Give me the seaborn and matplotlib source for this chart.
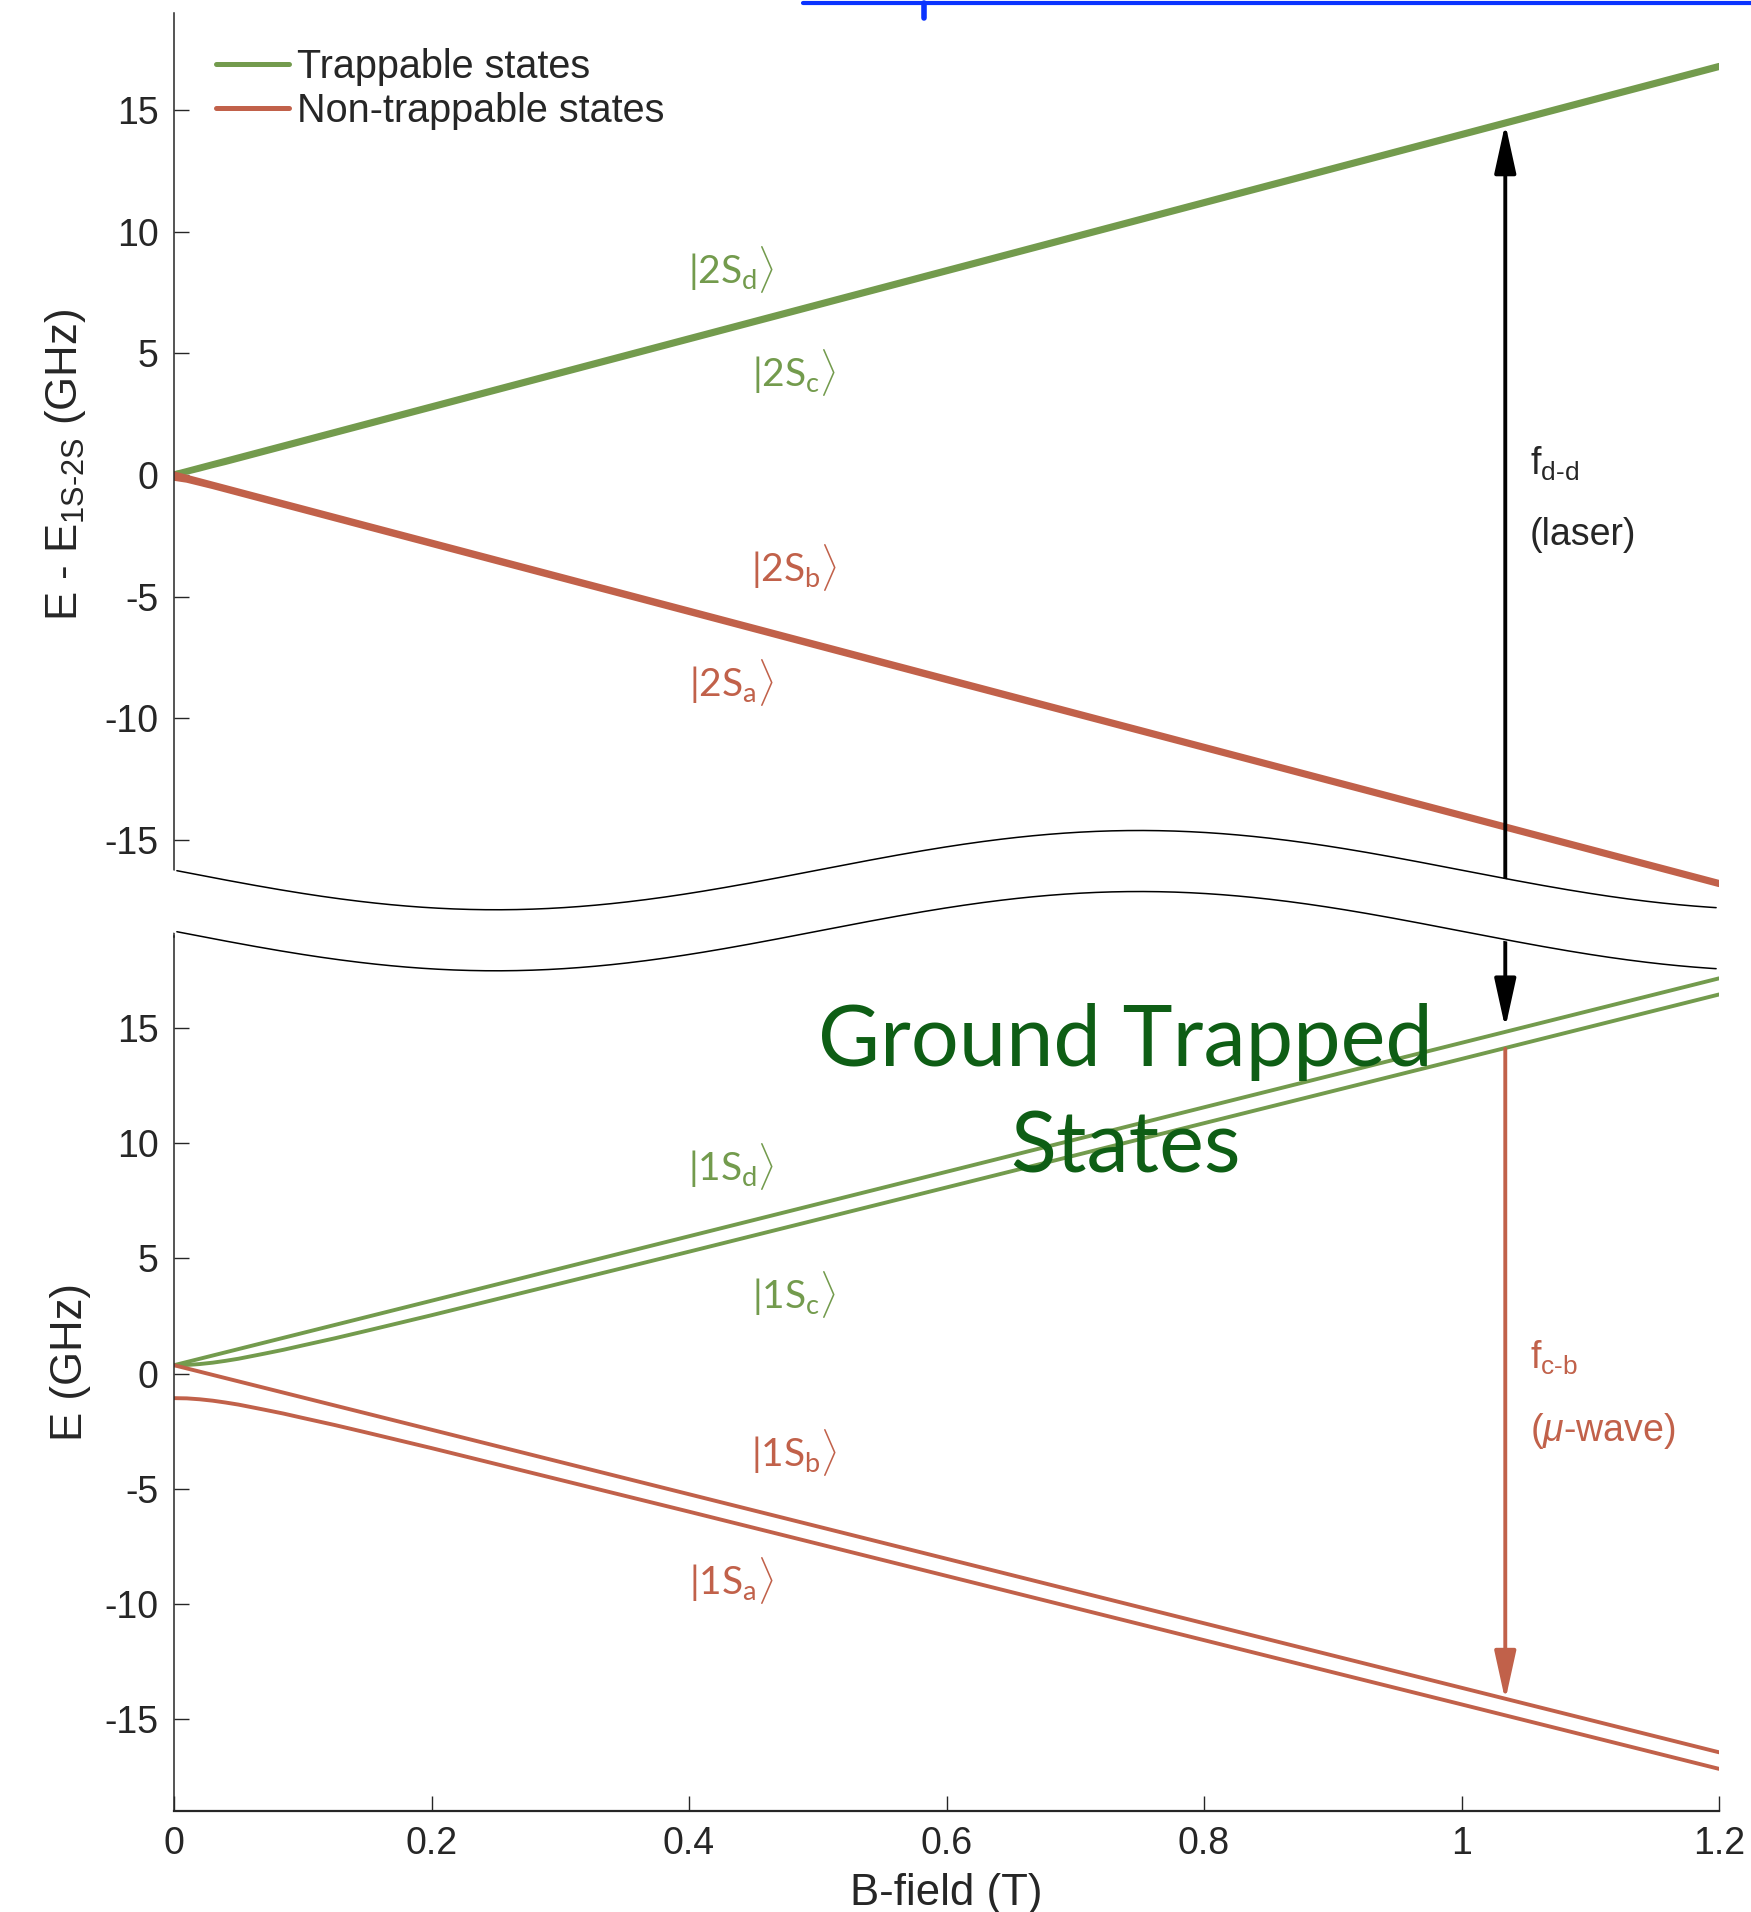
"""
Breit-Rabi diagram: 1S and 2S hyperfine states vs B-field (broken y axis).
"""

import numpy as np
import matplotlib
matplotlib.use("Agg")
import matplotlib.pyplot as plt
import seaborn as sns
from matplotlib.lines import Line2D

# ── Data ───────────────────────────────────────────────────────
B_ENDS = [0.0, 1.2]
B_SAMPLES = [0.0, 0.01, 0.02, 0.03, 0.04, 0.05, 0.07, 0.085, 0.1, 0.125,
             0.15, 0.2, 0.25, 0.3, 0.4, 0.6, 0.8, 1.0, 1.2]

# 2S manifold, E - E_1S-2S (GHz)
E_2S_D = [0.04, 16.84]
E_2S_C = [0.05, 0.12, 0.25, 0.39, 0.52, 0.66, 0.94, 1.15, 1.36, 1.71,
          2.06, 2.76, 3.46, 4.16, 5.56, 8.36, 11.16, 13.96, 16.76]
E_2S_B = [0.04, -16.76]
E_2S_A = [-0.13, -0.21, -0.34, -0.47, -0.61, -0.75, -1.03, -1.24, -1.45, -1.80,
          -2.15, -2.85, -3.55, -4.25, -5.65, -8.45, -11.24, -14.04, -16.84]

# 1S manifold, E (GHz)
E_1S_D = [0.36, 17.16]
E_1S_C = [0.36, 0.37, 0.41, 0.47, 0.55, 0.64, 0.86, 1.03, 1.22, 1.53,
          1.86, 2.53, 3.22, 3.91, 5.29, 8.08, 10.87, 13.66, 16.46]
E_1S_B = [0.36, -16.45]
E_1S_A = [-1.07, -1.08, -1.12, -1.18, -1.26, -1.35, -1.57, -1.74, -1.93, -2.24,
          -2.57, -3.24, -3.93, -4.62, -6.00, -8.79, -11.58, -14.37, -17.17]

STATE_NAMES = ["d", "c", "b", "a"]
LABEL_B = [0.433, 0.482, 0.482, 0.433]
LABEL_E_2S = [8.45, 4.2, -3.8, -8.55]
LABEL_E_1S = [9.0, 3.45, -3.45, -9.0]

B_TRANSITION = 1.034
F_DD = [14.45, 15.0]     # tip on 2S_d (upper panel), tip on 1S_d (lower panel)
F_CB = [14.1, -14.2]     # from 1S_c down to 1S_b

Y_TICKS = [-15, -10, -5, 0, 5, 10, 15]
X_TICKS = [0, 0.2, 0.4, 0.6, 0.8, 1.0, 1.2]
X_TICKLABELS = ["0", "0.2", "0.4", "0.6", "0.8", "1", "1.2"]

# axis-break wave (upper-panel data units)
BREAK_CENTER = -16.25
BREAK_AMP = 1.63
BREAK_GAP = 2.51

# ── Style ──────────────────────────────────────────────────────
sns.set_theme(style="white")
plt.rcParams.update({
    "font.family": ["Liberation Sans", "DejaVu Sans"],
    "axes.unicode_minus": False,
    "mathtext.fontset": "custom",
    "mathtext.rm": "Liberation Sans",
    "mathtext.it": "Liberation Sans:italic",
    "mathtext.sf": "Lato",
})
GREEN = "#739B4D"
RED = "#C1614A"
DARK_GREEN = "#0E5E15"
AXIS_COL = "#262626"
FS = 27
FS_LABEL = 31.5

fig = plt.figure(figsize=(17.51, 19.12), dpi=100)
L, W = 174 / 1751, 1545 / 1751
ax_bot = fig.add_axes([L, 1 - 1811 / 1912, W, 875 / 1912])
ax_top = fig.add_axes([L, 1 - 937 / 1912, W, 924 / 1912])

# ── Upper panel: 2S ────────────────────────────────────────────
sns.lineplot(x=B_ENDS, y=E_2S_D, ax=ax_top, color=GREEN, lw=3.8, legend=False)
sns.lineplot(x=B_SAMPLES, y=E_2S_C, ax=ax_top, color=GREEN, lw=3.8, legend=False)
sns.lineplot(x=B_ENDS, y=E_2S_B, ax=ax_top, color=RED, lw=3.8, legend=False)
sns.lineplot(x=B_SAMPLES, y=E_2S_A, ax=ax_top, color=RED, lw=3.8, legend=False)

# ── Lower panel: 1S ────────────────────────────────────────────
sns.lineplot(x=B_ENDS, y=E_1S_D, ax=ax_bot, color=GREEN, lw=2.8, legend=False)
sns.lineplot(x=B_SAMPLES, y=E_1S_C, ax=ax_bot, color=GREEN, lw=2.8, legend=False)
sns.lineplot(x=B_ENDS, y=E_1S_B, ax=ax_bot, color=RED, lw=2.8, legend=False)
sns.lineplot(x=B_SAMPLES, y=E_1S_A, ax=ax_bot, color=RED, lw=2.8, legend=False)

# state labels
for i, s in enumerate(STATE_NAMES):
    col = GREEN if s in ("c", "d") else RED
    ax_top.text(LABEL_B[i], LABEL_E_2S[i], r"$\mathsf{|2S_{%s}}\rangle$" % s,
                color=col, fontsize=28, ha="center", va="center")
    ax_bot.text(LABEL_B[i], LABEL_E_1S[i], r"$\mathsf{|1S_{%s}}\rangle$" % s,
                color=col, fontsize=28, ha="center", va="center")

# transitions
arrow_kw = dict(arrowstyle="-|>,head_length=1.5,head_width=0.33",
                mutation_scale=20, shrinkA=0, shrinkB=0, lw=2.8)
ax_top.annotate("", xy=(B_TRANSITION, F_DD[0]), xytext=(B_TRANSITION, -17.8),
                arrowprops=dict(color="black", **arrow_kw))
ax_bot.annotate("", xy=(B_TRANSITION, F_DD[1]), xytext=(B_TRANSITION, 19.8),
                arrowprops=dict(color="black", **arrow_kw), annotation_clip=False)
ax_bot.annotate("", xy=(B_TRANSITION, F_CB[1]), xytext=(B_TRANSITION, F_CB[0]),
                arrowprops=dict(color=RED, **arrow_kw))

ax_top.text(1.053, 0.45, r"f$_{\text{d-d}}$", fontsize=FS, ha="left", va="center")
ax_top.text(1.053, -2.45, "(laser)", fontsize=FS, ha="left", va="center")
ax_bot.text(1.053, 0.7, r"f$_{\text{c-b}}$", fontsize=FS, ha="left", va="center", color=RED)
ax_bot.text(1.053, -2.5, r"($\mu$-wave)", fontsize=FS, ha="left", va="center", color=RED)

ax_bot.text(0.739, 14.4, "Ground Trapped", fontsize=61, family="Lato",
            color=DARK_GREEN, ha="center", va="center")
ax_bot.text(0.739, 9.75, "States", fontsize=61, family="Lato",
            color=DARK_GREEN, ha="center", va="center")

# legend
handles = [Line2D([], [], color=GREEN, lw=3.6), Line2D([], [], color=RED, lw=3.6)]
ax_top.legend(handles, ["Trappable states", "Non-trappable states"],
              loc="upper left", bbox_to_anchor=(0.027, 0.962), frameon=False,
              fontsize=28.5, handlelength=1.85, handletextpad=0.2,
              borderpad=0, borderaxespad=0, labelspacing=0.15)

# ── Axis break ─────────────────────────────────────────────────
wx = np.linspace(-0.01, 1.21, 500)
wave_hi = BREAK_CENTER - BREAK_AMP * np.sin(2 * np.pi * wx)
wave_lo = wave_hi - BREAK_GAP
ax_top.fill_between(wx, wave_lo - 0.05, wave_hi, color="white", lw=0,
                    zorder=10, clip_on=False)
m = (wx >= 0) & (wx <= 1.2)
ax_top.plot(wx[m], wave_hi[m], color="black", lw=1.1, zorder=11, clip_on=False)
ax_top.plot(wx[m], wave_lo[m], color="black", lw=1.1, zorder=11, clip_on=False)

# ── Axes styling ───────────────────────────────────────────────
for ax in (ax_top, ax_bot):
    ax.set_xlim(0, 1.2)
    ax.set_ylim(-19, 19)
    ax.set_yticks(Y_TICKS)
    ax.set_yticklabels([str(t) for t in Y_TICKS])
    ax.spines["top"].set_visible(False)
    ax.spines["right"].set_visible(False)
    ax.spines["left"].set_color(AXIS_COL)
    ax.spines["left"].set_linewidth(1.1)
    ax.tick_params(axis="both", direction="in", length=11, width=1.0,
                   color=AXIS_COL, labelsize=FS, labelcolor=AXIS_COL, pad=11,
                   left=True, bottom=True)
    ax.patch.set_alpha(0)
    ax.grid(False)

ax_top.spines["bottom"].set_visible(False)
ax_top.tick_params(axis="x", bottom=False, labelbottom=False)
ax_bot.spines["bottom"].set_color(AXIS_COL)
ax_bot.spines["bottom"].set_linewidth(1.6)
ax_bot.set_xticks(X_TICKS)
ax_bot.set_xticklabels(X_TICKLABELS)

ax_top.set_ylabel(r"E - E$_{\text{1S-2S}}$ (GHz)", fontsize=FS_LABEL)
ax_top.yaxis.set_label_coords(-0.0557, 0.511)
ax_bot.set_ylabel("E (GHz)", fontsize=FS_LABEL)
ax_bot.yaxis.set_label_coords(-0.0537, 0.513)
ax_bot.set_xlabel("B-field (T)", fontsize=FS_LABEL)
ax_bot.xaxis.set_label_coords(0.5, -0.0709)

# stray blue rule at the top edge of the source image
fig.add_artist(Line2D([0.4586, 1.0], [0.9982, 0.9982], color="#0A33FF", lw=3.0,
                      transform=fig.transFigure))
fig.add_artist(Line2D([0.5277, 0.5277], [0.9982, 0.9905], color="#0A33FF", lw=4.0,
                      transform=fig.transFigure))

fig.savefig("out.png", dpi=100)
plt.close(fig)
